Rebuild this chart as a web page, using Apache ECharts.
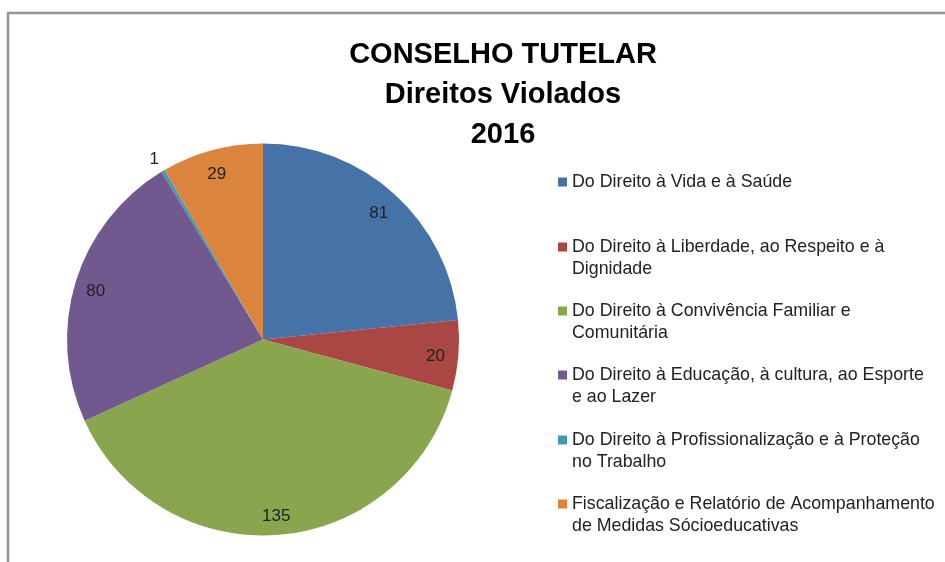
<!DOCTYPE html>
<html>
<head>
<meta charset="utf-8">
<script src="https://cdn.jsdelivr.net/npm/echarts@6/dist/echarts.min.js"></script>
<style>html,body{margin:0;padding:0;background:#fff;}#c{width:945px;height:562px;}</style>
</head>
<body>
<div id="c"></div>
<script>
const titleLines = ['CONSELHO TUTELAR', 'Direitos Violados', '2016'];
const categories = [
  'Do Direito à Vida e à Saúde',
  'Do Direito à Liberdade, ao Respeito e à Dignidade',
  'Do Direito à Convivência Familiar e Comunitária',
  'Do Direito à Educação, à cultura, ao Esporte e ao Lazer',
  'Do Direito à Profissionalização e à Proteção no Trabalho',
  'Fiscalização e Relatório de Acompanhamento de Medidas Sócioeducativas'
];
const legendLines = [
  ['Do Direito à Vida e à Saúde'],
  ['Do Direito à Liberdade, ao Respeito e à', 'Dignidade'],
  ['Do Direito à Convivência Familiar e', 'Comunitária'],
  ['Do Direito à Educação, à cultura, ao Esporte', 'e ao Lazer'],
  ['Do Direito à Profissionalização e à Proteção', 'no Trabalho'],
  ['Fiscalização e Relatório de Acompanhamento', 'de Medidas Sócioeducativas']
];
const values = [81, 20, 135, 80, 1, 29];
const colors = ['#4572A7', '#AA4643', '#89A54E', '#71588F', '#4198AF', '#DB843D'];

const FONT = 'Liberation Sans';
const cx = 263, cy = 339.5, R = 196;
const legendFirstLineY = [181, 246, 310, 374, 439, 503];
const LH = 22;

const legends = categories.map((name, i) => {
  const twoLine = legendLines[i].length > 1;
  return {
    show: true,
    orient: 'vertical',
    left: 558,
    top: legendFirstLineY[i] + 1 - (twoLine ? 1.5 * LH : 0.5 * LH),
    padding: 0,
    itemWidth: 9,
    itemHeight: 9,
    itemGap: 0,
    selectedMode: false,
    icon: 'rect',
    data: [name],
    formatter: () => (twoLine ? ' \n' : '') + legendLines[i].join('\n'),
    textStyle: {
      fontFamily: FONT,
      fontSize: 17.8,
      color: '#222',
      lineHeight: LH
    }
  };
});

const mainData = categories.map((name, i) => ({
  name: name,
  value: values[i],
  itemStyle: { color: colors[i] }
}));
const innerLabelData = categories.map((name, i) => ({
  name: name,
  value: values[i],
  label: { show: values[i] >= 5 }
}));
const outerLabelData = categories.map((name, i) => ({
  name: name,
  value: values[i],
  label: { show: values[i] < 5 }
}));

const labelStyle = {
  position: 'inside',
  fontFamily: FONT,
  fontSize: 17,
  color: '#222',
  formatter: '{c}'
};

const chart = echarts.init(document.getElementById('c'), null, { renderer: 'canvas' });
chart.setOption({
  animation: false,
  backgroundColor: '#fff',
  title: {
    text: titleLines.join('\n'),
    left: 498,
    top: 30,
    textAlign: 'center',
    textStyle: {
      fontFamily: FONT,
      fontSize: 29,
      fontWeight: 'bold',
      color: '#000',
      lineHeight: 40
    }
  },
  legend: legends,
  graphic: [
    { type: 'line', shape: { x1: 7, y1: 13, x2: 945, y2: 13 }, style: { stroke: '#959595', lineWidth: 2.5 } },
    { type: 'line', shape: { x1: 8, y1: 12, x2: 8, y2: 562 }, style: { stroke: '#959595', lineWidth: 2.5 } }
  ],
  series: [
    {
      type: 'pie',
      center: [cx, cy],
      radius: [0, R],
      startAngle: 90,
      clockwise: true,
      avoidLabelOverlap: false,
      label: { show: false },
      labelLine: { show: false },
      emphasis: { disabled: true },
      data: mainData
    },
    {
      type: 'pie',
      center: [cx - 1, cy + 3],
      radius: [146, R],
      startAngle: 90,
      clockwise: true,
      silent: true,
      legendHoverLink: false,
      itemStyle: { color: 'rgba(0,0,0,0)' },
      label: labelStyle,
      labelLine: { show: false },
      emphasis: { disabled: true },
      data: innerLabelData
    },
    {
      type: 'pie',
      center: [cx, cy + 3],
      radius: [R, 224],
      startAngle: 90,
      clockwise: true,
      silent: true,
      legendHoverLink: false,
      itemStyle: { color: 'rgba(0,0,0,0)' },
      label: labelStyle,
      labelLine: { show: false },
      emphasis: { disabled: true },
      data: outerLabelData
    }
  ]
});
</script>
</body>
</html>
